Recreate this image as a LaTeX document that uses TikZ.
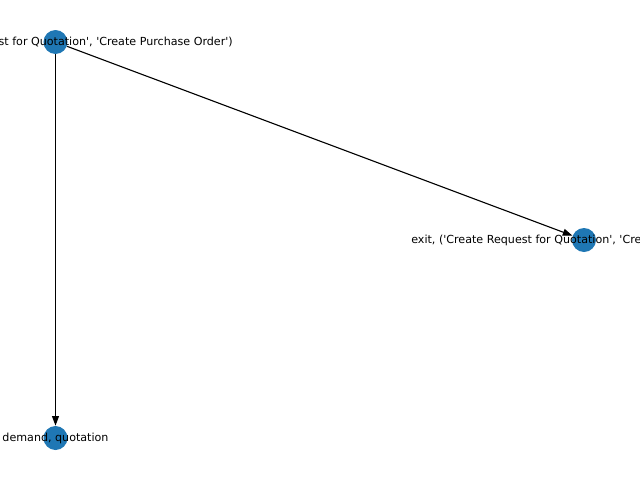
\documentclass[tikz,border=0pt]{standalone}
\usepackage{fontspec}
\setmainfont{DejaVu Sans}
\usetikzlibrary{arrows.meta}
\definecolor{nxblue}{HTML}{1F77B4}
\newcommand{\sq}{\textquotesingle}
\tikzset{
  vert/.style={circle, fill=nxblue, draw=none, minimum size=17.28pt, inner sep=0pt},
  lbl/.style={inner sep=0pt, font=\fontsize{8}{9.6}\selectfont, text=black},
  edge/.style={draw=black, line width=0.8pt, -{Triangle[length=7pt,width=5pt]}}
}
\begin{document}
\begin{tikzpicture}[x=0.72pt, y=-0.72pt]
\useasboundingbox (0,0) rectangle (640,480);
\clip (0,0) rectangle (640,480);
\node[vert] (a) at (55.5,42) {};
\node[vert] (b) at (584,240) {};
\node[vert] (c) at (55.5,438) {};
\draw[edge] (a) -- (b);
\draw[edge] (a) -- (c);
\node[lbl, anchor=east] (la) at (233,42) {st for Quotation\sq, \sq Create Purchase Order\sq)};
\node[lbl, anchor=west] (lb) at (411,240) {exit, (\sq Create Request for Quotation\sq, \sq Cre};
\node[lbl] (lc) at (55.5,438) {demand, quotation};
\end{tikzpicture}
\end{document}
